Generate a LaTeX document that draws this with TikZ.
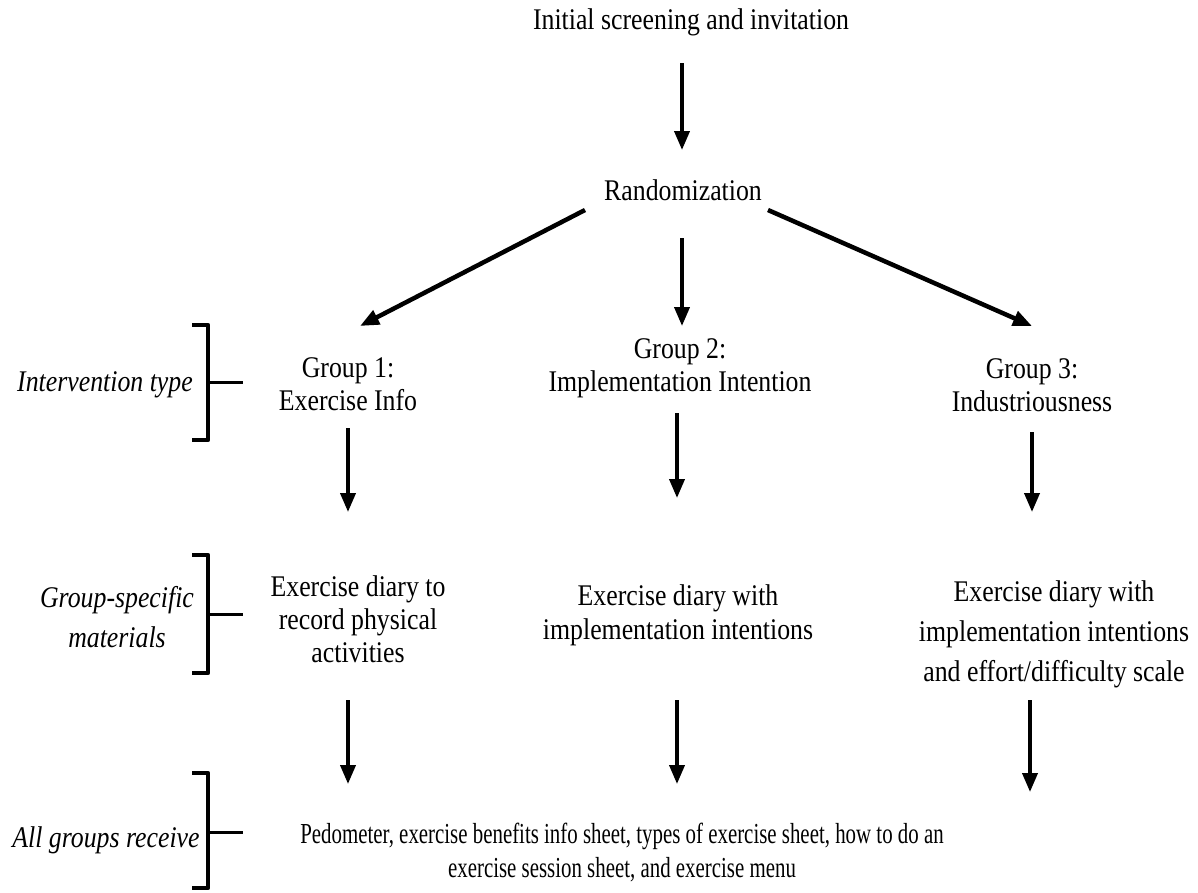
\documentclass[tikz,border=0pt]{standalone}
\usepackage{fontspec}
\setmainfont{Liberation Serif}[FakeStretch=0.86]
\newfontfamily\condfont{Liberation Serif}[FakeStretch=0.72]
\usetikzlibrary{arrows.meta}
\begin{document}
\begin{tikzpicture}[x=1pt,y=-1pt,
  txt/.style={align=center,inner sep=0pt,font=\fontsize{30}{33}\selectfont},
  lab/.style={align=center,inner sep=0pt,font=\fontsize{30}{40}\selectfont\itshape},
  arr/.style={line width=3.8pt,-{Triangle[width=15pt,length=19pt]}},
  brk/.style={line width=4.5pt,line join=round},
  tick/.style={line width=3pt}]
\useasboundingbox (0,0) rectangle (1198,892);
\node[txt] (init) at (691,22) {Initial screening and invitation};
\node[txt] (rand) at (683,190) {Randomization};
\node[txt] (g1) at (348,384) {Group 1:\\Exercise Info};
\node[txt] (g2) at (680,368) {Group 2:\\Implementation Intention};
\node[txt] (g3) at (1032,385) {Group 3:\\Industriousness};
\node[txt] (m1) at (358,619) {Exercise diary to\\record physical\\activities};
\node[txt,font=\fontsize{30}{34}\selectfont] (m2) at (678,615) {Exercise diary with\\implementation intentions};
\node[txt,font=\fontsize{30}{40}\selectfont] (m3) at (1054,634) {Exercise diary with\\implementation intentions\\and effort/difficulty scale};
\node[txt,font=\fontsize{29}{34}\condfont] (all) at (622,853) {Pedometer, exercise benefits info sheet, types of exercise sheet, how to do an\\exercise session sheet, and exercise menu};
% arrows
\coordinate (a0s) at (682,63); \coordinate (a0e) at (682,150);
\draw[arr] (a0s) -- (a0e);
\coordinate (a1s) at (585,210); \coordinate (a1e) at (360,326);
\coordinate (a2s) at (682,238); \coordinate (a2e) at (682,326);
\coordinate (a3s) at (768,210); \coordinate (a3e) at (1032,326);
\draw[arr,line width=4.5pt] (a1s) -- (a1e);
\draw[arr] (a2s) -- (a2e);
\draw[arr,line width=4.5pt] (a3s) -- (a3e);
\coordinate (b1s) at (348,428); \coordinate (b1e) at (348,512);
\coordinate (b2s) at (677,413); \coordinate (b2e) at (677,498);
\coordinate (b3s) at (1032,432); \coordinate (b3e) at (1032,512);
\draw[arr] (b1s) -- (b1e);
\draw[arr] (b2s) -- (b2e);
\draw[arr] (b3s) -- (b3e);
\coordinate (c1s) at (348,700); \coordinate (c1e) at (348,784);
\coordinate (c2s) at (677,700); \coordinate (c2e) at (677,784);
\coordinate (c3s) at (1030,700); \coordinate (c3e) at (1030,792);
\draw[arr] (c1s) -- (c1e);
\draw[arr] (c2s) -- (c2e);
\draw[arr] (c3s) -- (c3e);
% brackets
\draw[brk] (192,325) -- (208,325) -- (208,440) -- (192,440);
\draw[tick] (208,382) -- (243,382);
\draw[brk] (192,555) -- (208,555) -- (208,673) -- (192,673);
\draw[tick] (208,614) -- (243,614);
\draw[brk] (192,773) -- (208,773) -- (208,888) -- (192,888);
\draw[tick] (208,832) -- (243,832);
\node[lab] (l1) at (105,385) {Intervention type};
\node[lab] (l2) at (117,617) {Group-specific\\materials};
\node[lab] (l3) at (106,840) {All groups receive};
\end{tikzpicture}
\end{document}
